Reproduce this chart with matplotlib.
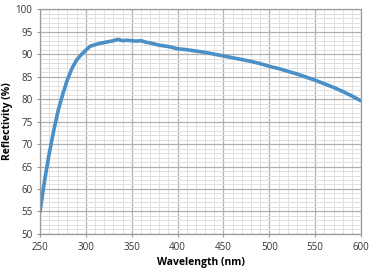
import numpy as np
import matplotlib.pyplot as plt
from matplotlib.ticker import MultipleLocator

# wavelength (nm) and reflectivity (%)
wavelength = [250, 255, 260, 265, 270, 275, 280, 285, 290, 295, 300, 305, 310, 315,
              320, 325, 330, 335, 340, 345, 350, 355, 360, 365, 370, 380, 390, 400,
              410, 420, 430, 440, 450, 460, 470, 480, 490, 500, 510, 520, 530, 540,
              550, 560, 570, 580, 590, 600]
reflectivity = [54.9, 61.8, 67.8, 73.0, 77.6, 81.2, 84.4, 86.9, 88.7, 89.9, 90.9, 91.8,
                92.1, 92.4, 92.6, 92.8, 93.0, 93.3, 93.0, 93.1, 93.0, 92.9, 93.0, 92.7,
                92.5, 92.0, 91.7, 91.2, 91.0, 90.7, 90.4, 90.0, 89.6, 89.2, 88.8, 88.4,
                87.9, 87.3, 86.8, 86.2, 85.6, 84.9, 84.2, 83.4, 82.6, 81.7, 80.7, 79.6]

x_ticks = [250, 300, 350, 400, 450, 500, 550, 600]
y_ticks = [50, 55, 60, 65, 70, 75, 80, 85, 90, 95, 100]

plt.rcParams['font.family'] = ['Open Sans', 'DejaVu Sans']

fig = plt.figure(figsize=(3.7, 2.72), dpi=100)
ax = fig.add_axes([0.108, 0.14, 0.868, 0.826])

ax.plot(wavelength, reflectivity, color='#4a8fc6', linewidth=2.6, solid_capstyle='round')

ax.set_xlim(250, 600)
ax.set_ylim(50, 100)
ax.set_xticks(x_ticks)
ax.set_yticks(y_ticks)
ax.xaxis.set_minor_locator(MultipleLocator(10))
ax.yaxis.set_minor_locator(MultipleLocator(1))
ax.grid(which='major', color='#b0b0b0', linewidth=0.9)
ax.grid(which='minor', color='#e0e0e0', linewidth=0.7)
ax.set_axisbelow(True)

ax.tick_params(which='minor', length=0)
ax.tick_params(which='major', labelsize=7, length=2.5, pad=3, colors='#999999',
               labelcolor='#333333')
for s in ax.spines.values():
    s.set_color('#9a9a9a')
    s.set_linewidth(0.9)

ax.set_xlabel('Wavelength (nm)', fontsize=7.5, fontweight='bold', labelpad=3)
ax.set_ylabel('Reflectivity (%)', fontsize=7.5, fontweight='bold', labelpad=2)

fig.savefig('out.png', dpi=100)
